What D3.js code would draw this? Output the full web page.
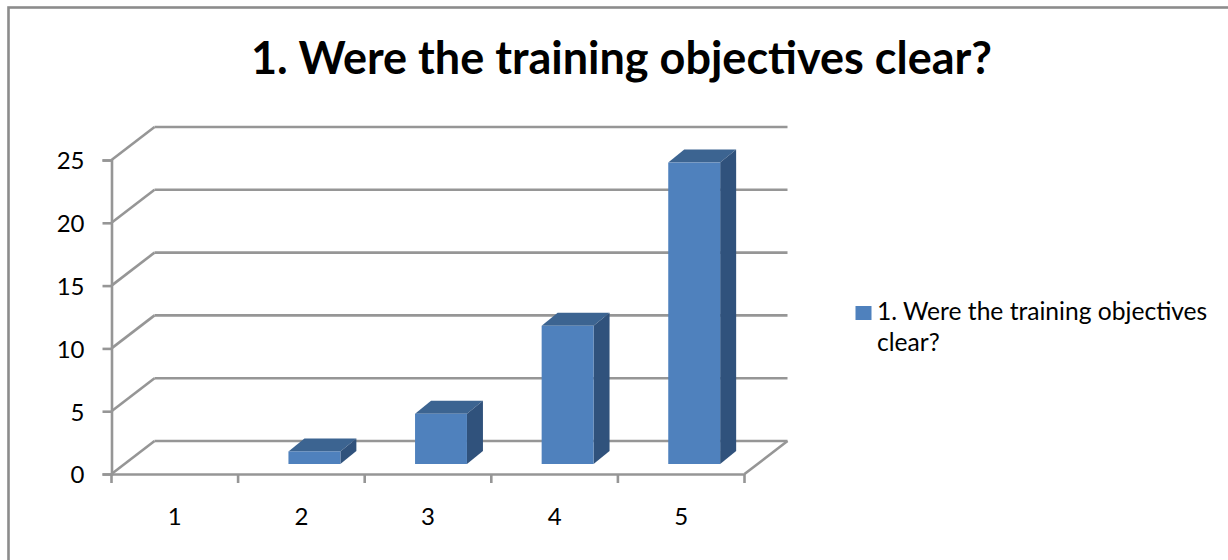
<!DOCTYPE html>
<html>
<head>
<meta charset="utf-8">
<script src="https://cdnjs.cloudflare.com/ajax/libs/d3/7.8.5/d3.min.js"></script>
<style>
  html, body { margin: 0; padding: 0; background: #fff; overflow: hidden; }
  text { font-family: Lato, "Open Sans", sans-serif; fill: #000; }
</style>
</head>
<body>
<div id="chart-area"></div>
<script>
const categories = ["1", "2", "3", "4", "5"]
const values = [0, 1, 4, 11, 24]
const yTicks = [0, 5, 10, 15, 20, 25]
const titleText = "1. Were the training objectives clear?"
const legendLines = ["1. Were the training objectives", "clear?"]

const WIDTH = 1228
const HEIGHT = 560
const GRID = "#969696"
const LINE_W = 2.6

// 3d look: back wall offset and the bar's place inside the floor depth
const DEPTH = { X: 43, Y: -33 }
const BAR_SHIFT = { X: 13, Y: -10 }
const BAR_DEPTH = { X: 16, Y: -13 }

const svg = d3.select("#chart-area").append("svg")
  .attr("width", WIDTH)
  .attr("height", HEIGHT)

// outer frame, runs off the right and bottom of the picture
svg.append("rect")
  .attr("x", 8.5)
  .attr("y", 7.5)
  .attr("width", 1300)
  .attr("height", 700)
  .attr("fill", "#fff")
  .attr("stroke", "#8c8c8c")
  .attr("stroke-width", 2.6)

svg.append("text")
  .attr("x", 621.5)
  .attr("y", 74)
  .attr("text-anchor", "middle")
  .style("font-size", "45px")
  .style("font-weight", 700)
  .text(titleText)

// scales
const x = d3.scaleBand().domain(categories).range([111.5, 744.5])
const y = d3.scaleLinear().domain([0, 25]).range([474, 160])

// back wall gridlines and their slanted side-wall part
const grid = svg.append("g")
grid.selectAll(".back")
  .data(yTicks)
  .join("line")
  .attr("class", "back")
  .attr("x1", x.range()[0] + DEPTH.X)
  .attr("x2", x.range()[1] + DEPTH.X)
  .attr("y1", d => y(d) + DEPTH.Y)
  .attr("y2", d => y(d) + DEPTH.Y)
  .attr("stroke", GRID)
  .attr("stroke-width", LINE_W)
grid.selectAll(".side")
  .data(yTicks)
  .join("line")
  .attr("class", "side")
  .attr("x1", x.range()[0])
  .attr("x2", x.range()[0] + DEPTH.X)
  .attr("y1", d => y(d))
  .attr("y2", d => y(d) + DEPTH.Y)
  .attr("stroke", GRID)
  .attr("stroke-width", LINE_W)
// floor, right edge
grid.append("line")
  .attr("x1", x.range()[1])
  .attr("x2", x.range()[1] + DEPTH.X)
  .attr("y1", y(0))
  .attr("y2", y(0) + DEPTH.Y)
  .attr("stroke", GRID)
  .attr("stroke-width", LINE_W)

// bars
const barW = x.bandwidth() * 0.41
const bars = svg.selectAll(".bar")
  .data(categories.map((c, i) => ({ c, v: values[i] })).filter(d => d.v > 0))
  .join("g")
  .attr("class", "bar")
  .attr("transform", d => {
    const left = x(d.c) + (x.bandwidth() - barW) / 2 + BAR_SHIFT.X
    return `translate(${left}, ${y(d.v) + BAR_SHIFT.Y})`
  })

bars.append("path")
  .attr("fill", "#3c6491")
  .attr("d", `M0,0 L${BAR_DEPTH.X},${BAR_DEPTH.Y} H${barW + BAR_DEPTH.X} L${barW},0 Z`)
bars.append("path")
  .attr("fill", "#30527c")
  .attr("d", d => {
    const h = y(0) - y(d.v)
    return `M${barW},0 L${barW + BAR_DEPTH.X},${BAR_DEPTH.Y} V${h + BAR_DEPTH.Y} L${barW},${h} Z`
  })
bars.append("rect")
  .attr("width", barW)
  .attr("height", d => y(0) - y(d.v))
  .attr("fill", "#4f81bd")

// axes
const yAxis = svg.append("g")
  .attr("transform", `translate(${x.range()[0]}, 0)`)
  .call(d3.axisLeft(y).tickValues(yTicks).tickSize(9).tickPadding(18))
const xAxis = svg.append("g")
  .attr("transform", `translate(0, ${y(0)})`)
  .call(d3.axisBottom(x).tickSize(0).tickPadding(34))

xAxis.selectAll(".edge")
  .data(d3.range(categories.length + 1))
  .join("line")
  .attr("class", "edge")
  .attr("x1", i => x.range()[0] + i * x.step())
  .attr("x2", i => x.range()[0] + i * x.step())
  .attr("y1", 0)
  .attr("y2", 9)
  .attr("stroke", GRID)
  .attr("stroke-width", LINE_W)

svg.selectAll(".domain, .tick line")
  .attr("stroke", GRID)
  .attr("stroke-width", LINE_W)
svg.selectAll(".tick text")
  .style("font-family", "Lato, 'Open Sans', sans-serif")
  .style("font-size", "24px")
  .attr("fill", "#000")
yAxis.selectAll(".tick text").attr("dy", "0.37em")

// legend
svg.append("rect")
  .attr("x", 855.5)
  .attr("y", 306)
  .attr("width", 16)
  .attr("height", 14)
  .attr("fill", "#4f81bd")
svg.selectAll(".legend")
  .data(legendLines)
  .join("text")
  .attr("class", "legend")
  .attr("x", 877)
  .attr("y", (d, i) => 320 + i * 31)
  .style("font-size", "24.6px")
  .text(d => d)
</script>
</body>
</html>
